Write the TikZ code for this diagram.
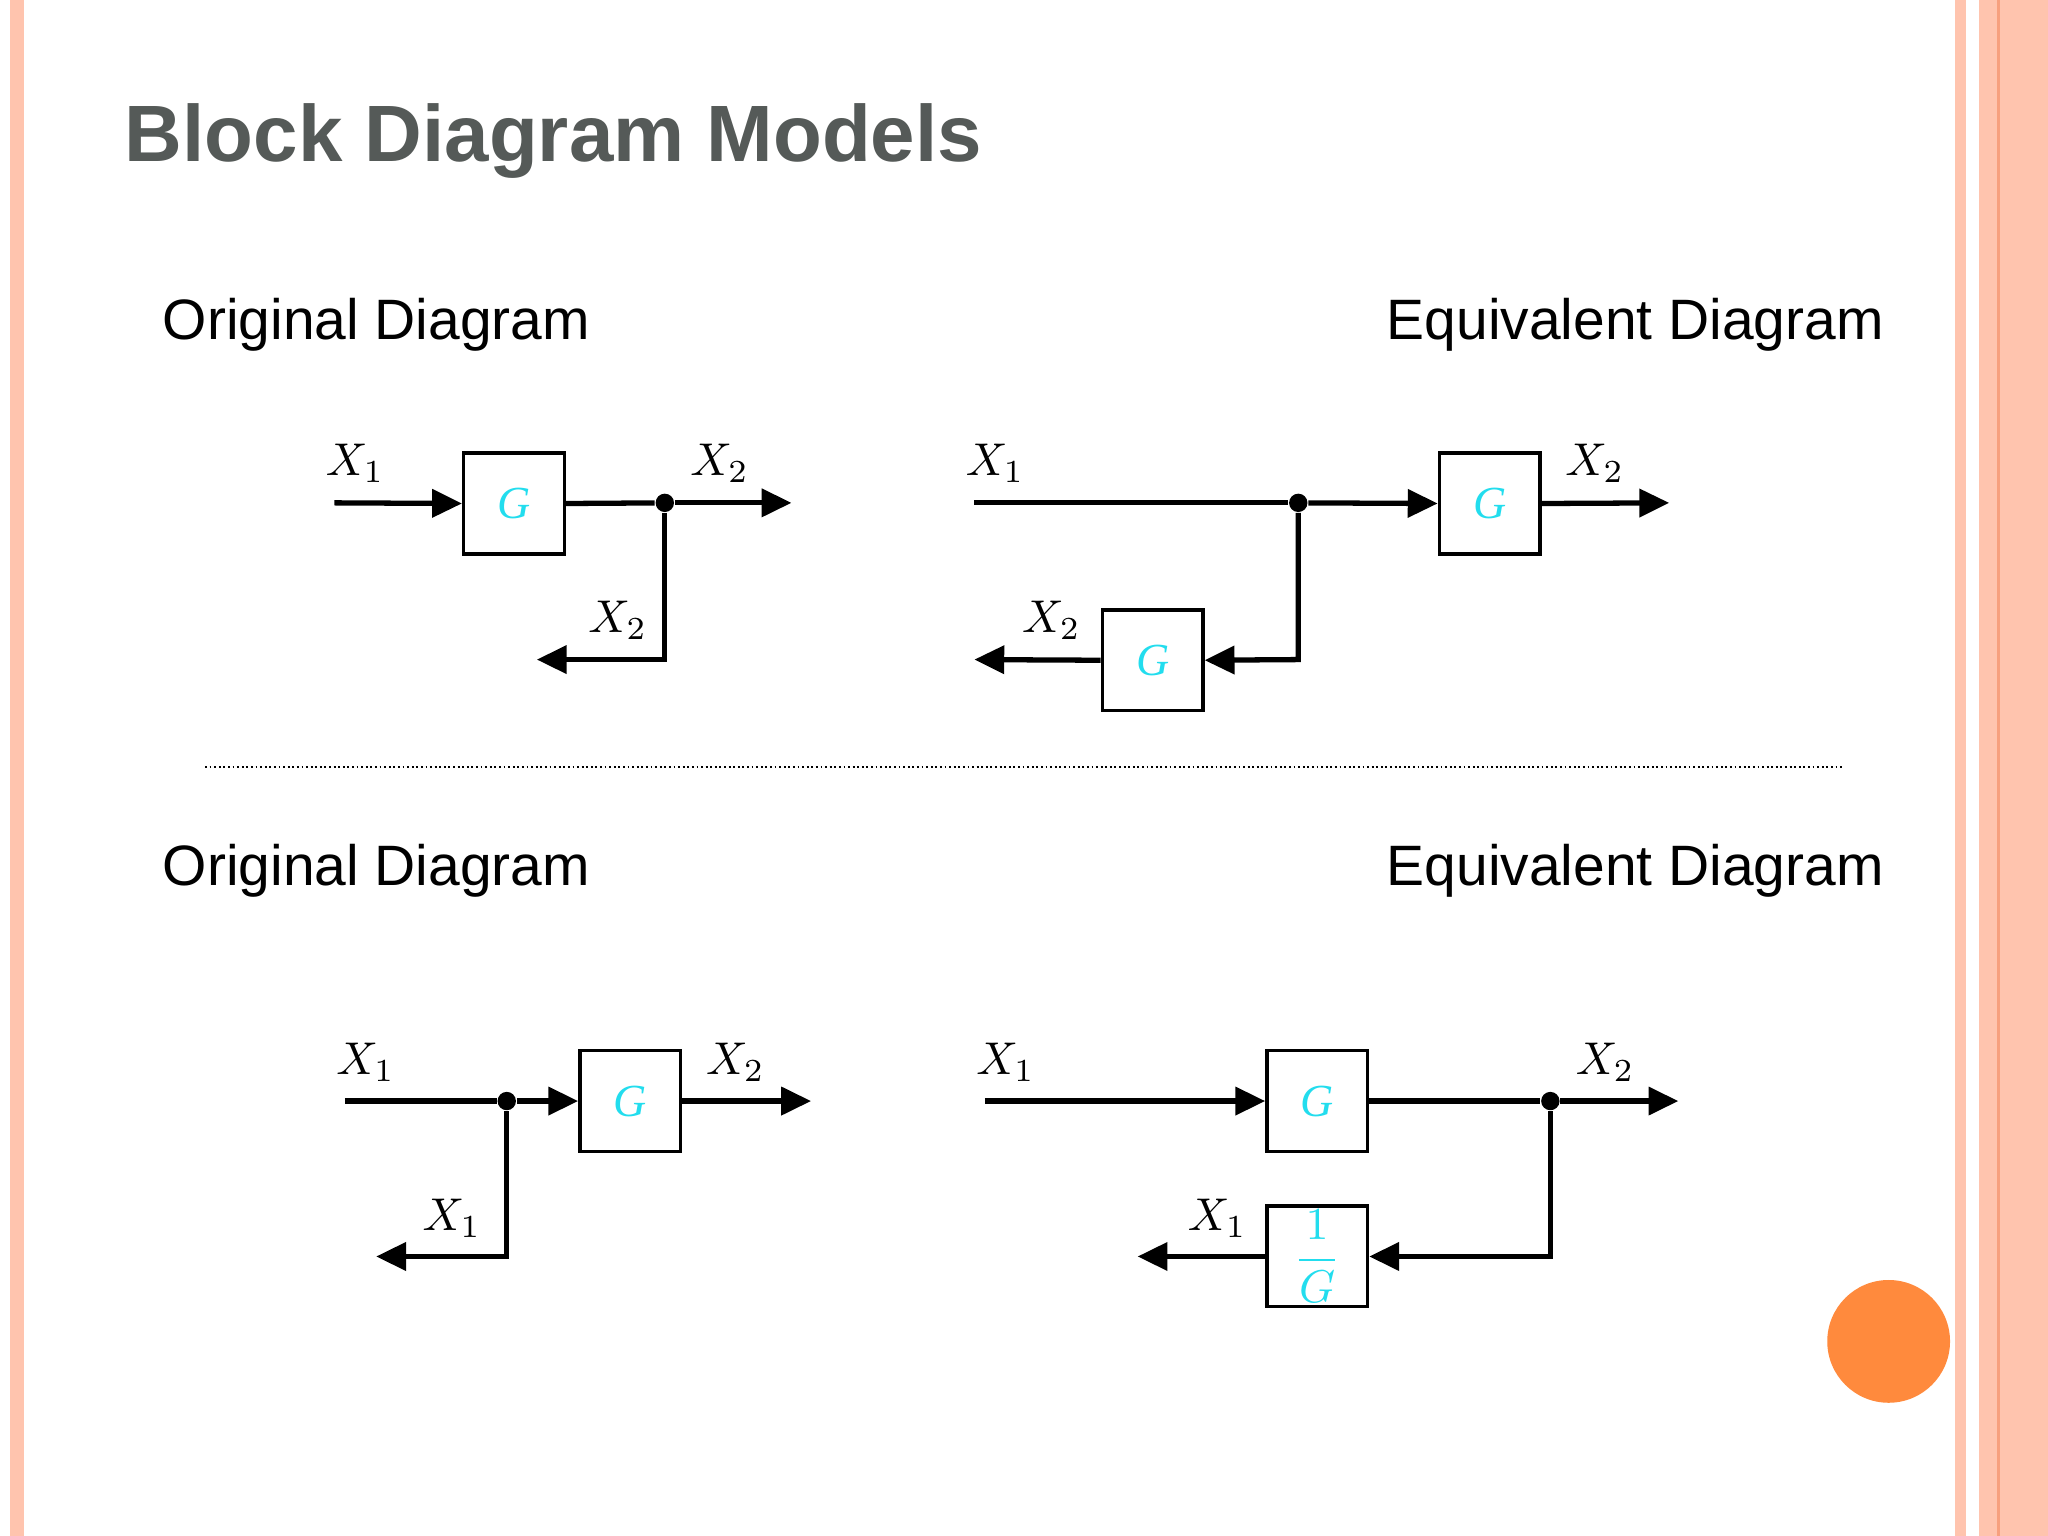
\documentclass[tikz,border=0pt]{standalone}
\usepackage{fontspec}
\setmainfont{Liberation Sans}
\newfontfamily\tms{Liberation Serif}
\usetikzlibrary{arrows.meta}
\definecolor{salm}{HTML}{FFC4AE}
\definecolor{dsalm}{HTML}{F7A07E}
\definecolor{orng}{HTML}{FF8A3D}
\definecolor{cyn}{HTML}{22DDEE}
\definecolor{ttl}{HTML}{555A58}
\begin{document}
\begin{tikzpicture}[x=0.01cm,y=-0.01cm,
  sig/.style={line width=1.15pt,-{Triangle[length=6.5pt,width=6pt]}},
  wire/.style={line width=1.15pt},
  blk/.style={draw,line width=0.75pt,minimum width=77*0.01cm,minimum height=77*0.01cm,inner sep=0pt,text=cyn,font=\tms\itshape\fontsize{10}{12}\selectfont},
  lab/.style={font=\tms\fontsize{10}{12}\selectfont},
  dot/.style={circle,fill,inner sep=0pt,minimum size=4pt},
  sub/.style={font=\fontsize{12.4}{15}\selectfont,anchor=base west,inner sep=0pt}]
\useasboundingbox (0,0) rectangle (1568,1176);
\fill[white] (0,0) rectangle (1568,1176);
\fill[salm] (8,0) rectangle (18,1176);
\fill[salm] (1497,0) rectangle (1505,1176);
\fill[salm] (1515,0) rectangle (1568,1176);
\fill[dsalm] (1529,0) rectangle (1531,1176);
\fill[orng] (1446,1027) circle (47);
\node[anchor=base west,inner sep=0pt,font=\bfseries\fontsize{17.4}{20}\selectfont,text=ttl] (title) at (95,124) {Block Diagram Models};
\node[sub] (o1) at (124,260) {Original Diagram};
\node[sub,anchor=base east] (e1) at (1443,260) {Equivalent Diagram};
\node[sub] (o2) at (124,678) {Original Diagram};
\node[sub,anchor=base east] (e2) at (1443,678) {Equivalent Diagram};
\draw[line width=0.4pt,dash pattern=on 0.4pt off 0.6pt] (157,587) -- (1410,587);
% diagram 1
\coordinate (a0) at (256,385);
\node[blk] (g1) at (393.5,385.5) {G};
\node[dot] (d1) at (509,385) {};
\coordinate (a1) at (606,385);
\coordinate (a2) at (509,505);
\coordinate (a3) at (411,505);
\draw[sig] (a0) -- (g1.west);
\draw[wire] (g1.east) -- (d1);
\draw[sig] (d1) -- (a1);
\draw[sig] (d1) -- (a2) -- (a3);
\node[lab] at (272,355) {$X_1$};
\node[lab] at (551,355) {$X_2$};
\node[lab] at (473,475) {$X_2$};
% diagram 2
\coordinate (b0) at (746,385);
\node[dot] (d2) at (994,385) {};
\node[blk] (g2) at (1140.5,385.5) {G};
\coordinate (b1) at (1278,385);
\coordinate (b2) at (994,505);
\node[blk] (g3) at (882.5,505.5) {G};
\coordinate (b3) at (746,505);
\draw[wire] (b0) -- (d2);
\draw[sig] (d2) -- (g2.west);
\draw[sig] (g2.east) -- (b1);
\draw[sig] (d2) -- (b2) -- (g3.east);
\draw[sig] (g3.west) -- (b3);
\node[lab] at (762,355) {$X_1$};
\node[lab] at (1221,355) {$X_2$};
\node[lab] at (805,475) {$X_2$};
% diagram 3
\coordinate (c0) at (264,843);
\node[dot] (d3) at (388,843) {};
\node[blk] (g4) at (482.5,843) {G};
\coordinate (c1) at (621,843);
\coordinate (c2) at (388,962);
\coordinate (c3) at (288,962);
\draw[wire] (c0) -- (d3);
\draw[sig] (d3) -- (g4.west);
\draw[sig] (g4.east) -- (c1);
\draw[sig] (d3) -- (c2) -- (c3);
\node[lab] at (280,813) {$X_1$};
\node[lab] at (563,813) {$X_2$};
\node[lab] at (346,933) {$X_1$};
% diagram 4
\coordinate (e0) at (754,843);
\node[blk] (g5) at (1008.5,843) {G};
\node[dot] (d4) at (1187,843) {};
\coordinate (e1c) at (1285,843);
\coordinate (e2c) at (1187,962);
\node[blk] (g6) at (1008.5,962) {$\displaystyle\frac{1}{G}$};
\coordinate (e3) at (871,962);
\draw[sig] (e0) -- (g5.west);
\draw[wire] (g5.east) -- (d4);
\draw[sig] (d4) -- (e1c);
\draw[sig] (d4) -- (e2c) -- (g6.east);
\draw[sig] (g6.west) -- (e3);
\node[lab] at (770,813) {$X_1$};
\node[lab] at (1229,813) {$X_2$};
\node[lab] at (932,933) {$X_1$};
\end{tikzpicture}
\end{document}
